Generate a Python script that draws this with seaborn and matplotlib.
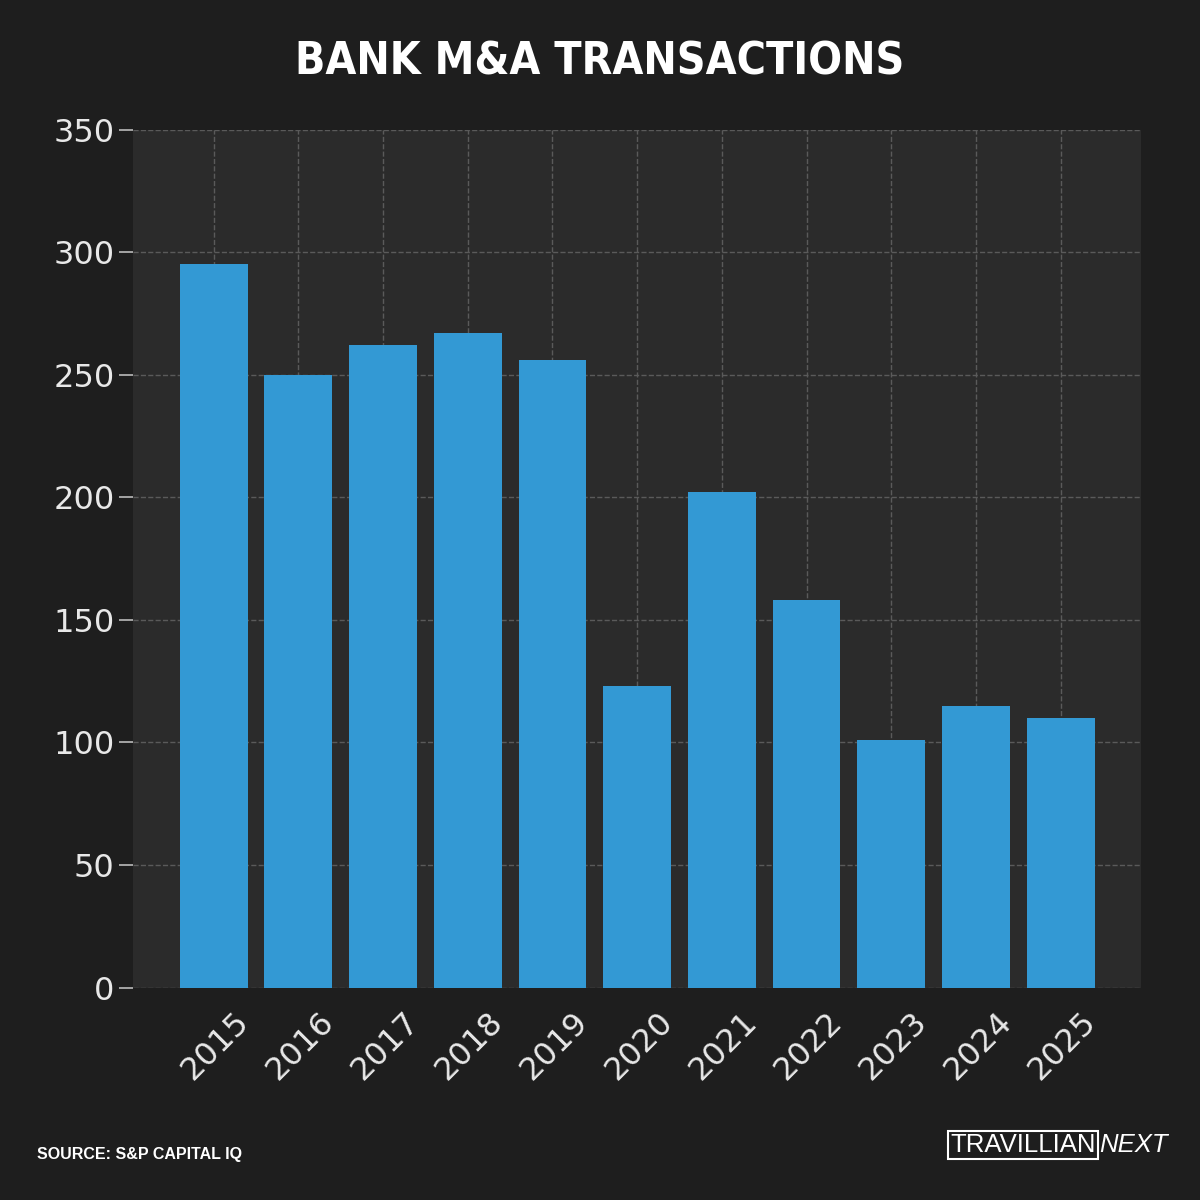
import matplotlib
matplotlib.use("Agg")
import matplotlib.pyplot as plt
import matplotlib.transforms as mtransforms
import seaborn as sns
import pandas as pd

years = ["2015", "2016", "2017", "2018", "2019", "2020", "2021", "2022", "2023", "2024", "2025"]
deals = [295, 250, 262, 267, 256, 123, 202, 158, 101, 115, 110]

data = pd.DataFrame({"year": years, "deals": deals})

sns.set_theme(style="dark")
plt.rcParams['font.family'] = ['DejaVu Sans']

fig = plt.figure(figsize=(12, 12), dpi=100, facecolor="#1e1e1e")
ax = fig.add_axes([0.111, 0.177, 0.84, 0.715])
ax.set_facecolor("#2b2b2b")

sns.barplot(x="year", y="deals", data=data, color="#3399d4", saturation=1, width=0.8,
            edgecolor="none", linewidth=0, ax=ax)

ax.set_ylim(0, 350)
ax.set_xlim(-0.95, 10.95)
ax.set_yticks(range(0, 351, 50))
ax.grid(True, linestyle="--", color="#5a5a5a", linewidth=1)
ax.set_axisbelow(True)
for s in ax.spines.values():
    s.set_visible(False)
ax.tick_params(axis="both", colors="#e8e8e8", labelsize=23, length=10, width=1.2, direction="out",
               left=True, bottom=False)
ax.tick_params(axis="y", color="#bbbbbb")
# shift x labels a bit to the right, like the original
offset = mtransforms.ScaledTranslation(0.2, 0, fig.dpi_scale_trans)
for lbl in ax.get_xticklabels():
    lbl.set_rotation(45)
    lbl.set_ha("right")
    lbl.set_rotation_mode("anchor")
    lbl.set_transform(lbl.get_transform() + offset)
ax.set_xlabel("")
ax.set_ylabel("")

fig.text(0.5, 0.948, "BANK M&A TRANSACTIONS", ha="center", va="center", color="white",
         fontsize=32, fontweight="heavy", fontstretch="condensed",
         family=["DejaVu Sans"])
fig.text(0.031, 0.038, "SOURCE: S&P CAPITAL IQ", ha="left", va="center", color="white",
         fontsize=11.5, fontweight="bold", family=["Liberation Sans", "DejaVu Sans"])
fig.text(0.913, 0.046, "TRAVILLIAN", ha="right", va="center", color="white",
         fontsize=18.5, family=["Liberation Sans", "DejaVu Sans"],
         bbox=dict(facecolor="none", edgecolor="white", linewidth=1.5, pad=1.5))
fig.text(0.916, 0.046, "NEXT", ha="left", va="center", color="white",
         fontsize=18.5, style="italic", family=["Liberation Sans", "DejaVu Sans"])

fig.savefig("out.png", dpi=100, facecolor=fig.get_facecolor())
